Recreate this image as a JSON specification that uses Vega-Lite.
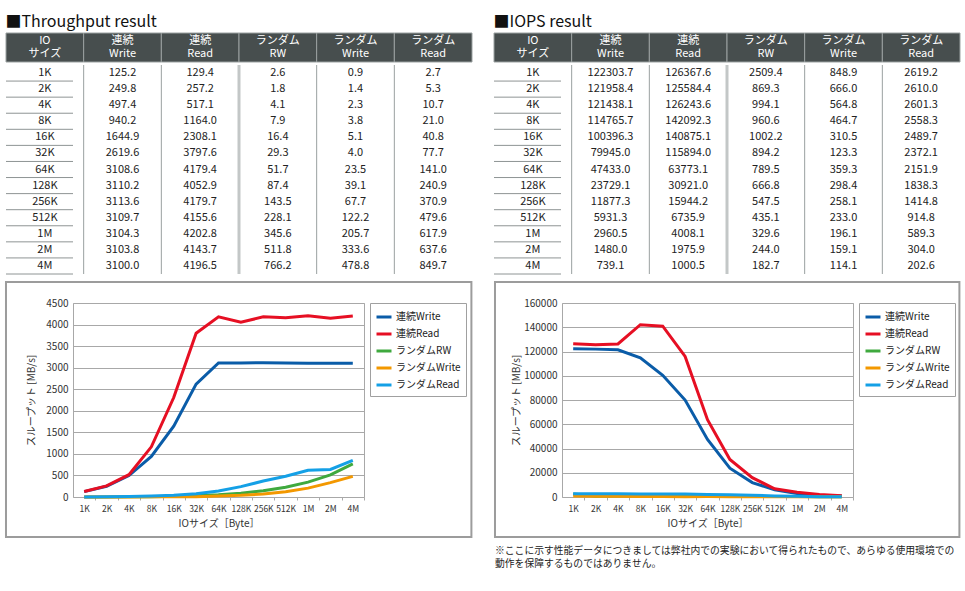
{
  "$schema": "https://vega.github.io/schema/vega-lite/v6.json",
  "padding": {"left": 4, "top": 13, "right": 0, "bottom": 0},
  "background": "white",
  "config": {
    "font": "Noto Sans CJK JP",
    "view": {"stroke": null},
    "title": {"font": "Noto Sans CJK JP"},
    "axis": {"labelFont": "Noto Sans CJK JP", "titleFont": "Noto Sans CJK JP"},
    "legend": {"labelFont": "Noto Sans CJK JP"},
    "text": {"font": "Noto Sans CJK JP"}
  },
  "datasets": {
    "cols": [
      {"col": "IO", "label": "IO\nサイズ"},
      {"col": "連続Write", "label": "連続\nWrite"},
      {"col": "連続Read", "label": "連続\nRead"},
      {"col": "ランダムRW", "label": "ランダム\nRW"},
      {"col": "ランダムWrite", "label": "ランダム\nWrite"},
      {"col": "ランダムRead", "label": "ランダム\nRead"}
    ],
    "tp": [
      {"size": "1K", "bytes": 1024, "連続Write": 125.2, "連続Read": 129.4, "ランダムRW": 2.6, "ランダムWrite": 0.9, "ランダムRead": 2.7},
      {"size": "2K", "bytes": 2048, "連続Write": 249.8, "連続Read": 257.2, "ランダムRW": 1.8, "ランダムWrite": 1.4, "ランダムRead": 5.3},
      {"size": "4K", "bytes": 4096, "連続Write": 497.4, "連続Read": 517.1, "ランダムRW": 4.1, "ランダムWrite": 2.3, "ランダムRead": 10.7},
      {"size": "8K", "bytes": 8192, "連続Write": 940.2, "連続Read": 1164.0, "ランダムRW": 7.9, "ランダムWrite": 3.8, "ランダムRead": 21.0},
      {"size": "16K", "bytes": 16384, "連続Write": 1644.9, "連続Read": 2308.1, "ランダムRW": 16.4, "ランダムWrite": 5.1, "ランダムRead": 40.8},
      {"size": "32K", "bytes": 32768, "連続Write": 2619.6, "連続Read": 3797.6, "ランダムRW": 29.3, "ランダムWrite": 4.0, "ランダムRead": 77.7},
      {"size": "64K", "bytes": 65536, "連続Write": 3108.6, "連続Read": 4179.4, "ランダムRW": 51.7, "ランダムWrite": 23.5, "ランダムRead": 141.0},
      {"size": "128K", "bytes": 131072, "連続Write": 3110.2, "連続Read": 4052.9, "ランダムRW": 87.4, "ランダムWrite": 39.1, "ランダムRead": 240.9},
      {"size": "256K", "bytes": 262144, "連続Write": 3113.6, "連続Read": 4179.7, "ランダムRW": 143.5, "ランダムWrite": 67.7, "ランダムRead": 370.9},
      {"size": "512K", "bytes": 524288, "連続Write": 3109.7, "連続Read": 4155.6, "ランダムRW": 228.1, "ランダムWrite": 122.2, "ランダムRead": 479.6},
      {"size": "1M", "bytes": 1048576, "連続Write": 3104.3, "連続Read": 4202.8, "ランダムRW": 345.6, "ランダムWrite": 205.7, "ランダムRead": 617.9},
      {"size": "2M", "bytes": 2097152, "連続Write": 3103.8, "連続Read": 4143.7, "ランダムRW": 511.8, "ランダムWrite": 333.6, "ランダムRead": 637.6},
      {"size": "4M", "bytes": 4194304, "連続Write": 3100.0, "連続Read": 4196.5, "ランダムRW": 766.2, "ランダムWrite": 478.8, "ランダムRead": 849.7}
    ],
    "iops": [
      {"size": "1K", "bytes": 1024, "連続Write": 122303.7, "連続Read": 126367.6, "ランダムRW": 2509.4, "ランダムWrite": 848.9, "ランダムRead": 2619.2},
      {"size": "2K", "bytes": 2048, "連続Write": 121958.4, "連続Read": 125584.4, "ランダムRW": 869.3, "ランダムWrite": 666.0, "ランダムRead": 2610.0},
      {"size": "4K", "bytes": 4096, "連続Write": 121438.1, "連続Read": 126243.6, "ランダムRW": 994.1, "ランダムWrite": 564.8, "ランダムRead": 2601.3},
      {"size": "8K", "bytes": 8192, "連続Write": 114765.7, "連続Read": 142092.3, "ランダムRW": 960.6, "ランダムWrite": 464.7, "ランダムRead": 2558.3},
      {"size": "16K", "bytes": 16384, "連続Write": 100396.3, "連続Read": 140875.1, "ランダムRW": 1002.2, "ランダムWrite": 310.5, "ランダムRead": 2489.7},
      {"size": "32K", "bytes": 32768, "連続Write": 79945.0, "連続Read": 115894.0, "ランダムRW": 894.2, "ランダムWrite": 123.3, "ランダムRead": 2372.1},
      {"size": "64K", "bytes": 65536, "連続Write": 47433.0, "連続Read": 63773.1, "ランダムRW": 789.5, "ランダムWrite": 359.3, "ランダムRead": 2151.9},
      {"size": "128K", "bytes": 131072, "連続Write": 23729.1, "連続Read": 30921.0, "ランダムRW": 666.8, "ランダムWrite": 298.4, "ランダムRead": 1838.3},
      {"size": "256K", "bytes": 262144, "連続Write": 11877.3, "連続Read": 15944.2, "ランダムRW": 547.5, "ランダムWrite": 258.1, "ランダムRead": 1414.8},
      {"size": "512K", "bytes": 524288, "連続Write": 5931.3, "連続Read": 6735.9, "ランダムRW": 435.1, "ランダムWrite": 233.0, "ランダムRead": 914.8},
      {"size": "1M", "bytes": 1048576, "連続Write": 2960.5, "連続Read": 4008.1, "ランダムRW": 329.6, "ランダムWrite": 196.1, "ランダムRead": 589.3},
      {"size": "2M", "bytes": 2097152, "連続Write": 1480.0, "連続Read": 1975.9, "ランダムRW": 244.0, "ランダムWrite": 159.1, "ランダムRead": 304.0},
      {"size": "4M", "bytes": 4194304, "連続Write": 739.1, "連続Read": 1000.5, "ランダムRW": 182.7, "ランダムWrite": 114.1, "ランダムRead": 202.6}
    ],
    "frame": [{}]
  },
  "spacing": 4,
  "vconcat": [
    {
      "spacing": 20,
      "hconcat": [
        {
          "title": {"text": "■Throughput result", "anchor": "start", "fontSize": 16, "fontWeight": "normal", "color": "#111", "offset": 3},
          "spacing": 0,
          "vconcat": [
            {
              "width": 399, "height": 29,
              "data": {"name": "cols"},
              "encoding": {"x": {"field": "col", "type": "nominal", "sort": null, "scale": {"domain": ["IO", "連続Write", "連続Read", "ランダムRW", "ランダムWrite", "ランダムRead"], "range": [-67, 399], "paddingInner": 0, "paddingOuter": 0}, "axis": null}},
              "layer": [
                {"mark": {"type": "rect", "fill": "#474e4e", "stroke": "#9ba1a1", "strokeWidth": 1}},
                {"mark": {"type": "text", "color": "white", "fontSize": 11, "lineBreak": "\n", "lineHeight": 13, "dy": -6.5}, "encoding": {"text": {"field": "label"}}}
              ]
            },
            {
              "width": 399, "height": 209,
              "data": {"name": "tp"},
              "layer": [
                {"mark": {"type": "rule", "color": "#8e9494", "strokeWidth": 1, "x": -67},
                 "encoding": {"y": {"field": "size", "type": "nominal", "sort": null, "bandPosition": 1, "scale": {"domain": ["1K","2K","4K","8K","16K","32K","64K","128K","256K","512K","1M","2M","4M"], "paddingInner": 0, "paddingOuter": 0}, "axis": null}}},
                {"data": {"name": "cols"}, "transform": [{"filter": "datum.col !== 'IO' && datum.col !== 'ランダムRW'"}],
                 "mark": {"type": "rule", "color": "#9aa0a0", "strokeWidth": 1},
                 "encoding": {"x": {"field": "col", "type": "nominal", "bandPosition": 0, "scale": {"domain": ["IO", "連続Write", "連続Read", "ランダムRW", "ランダムWrite", "ランダムRead"], "range": [-67, 399], "paddingInner": 0, "paddingOuter": 0}, "axis": null}}},
                {"data": {"name": "cols"}, "transform": [{"filter": "datum.col === 'ランダムRW'"}],
                 "mark": {"type": "rule", "color": "#c3c7c7", "strokeWidth": 3},
                 "encoding": {"x": {"field": "col", "type": "nominal", "bandPosition": 0, "scale": {"domain": ["IO", "連続Write", "連続Read", "ランダムRW", "ランダムWrite", "ランダムRead"], "range": [-67, 399], "paddingInner": 0, "paddingOuter": 0}, "axis": null}}},
                {"mark": {"type": "text", "fontSize": 11, "color": "#222"},
                 "encoding": {"x": {"datum": "IO", "type": "nominal", "scale": {"domain": ["IO", "連続Write", "連続Read", "ランダムRW", "ランダムWrite", "ランダムRead"], "range": [-67, 399], "paddingInner": 0, "paddingOuter": 0}, "axis": null},
                   "y": {"field": "size", "type": "nominal", "sort": null, "axis": null}, "text": {"field": "size"}}},
                {"transform": [{"fold": ["連続Write", "連続Read", "ランダムRW", "ランダムWrite", "ランダムRead"], "as": ["series", "val"]}],
                 "mark": {"type": "text", "fontSize": 11, "color": "#222"},
                 "encoding": {"x": {"field": "series", "type": "nominal", "axis": null},
                   "y": {"field": "size", "type": "nominal", "sort": null, "axis": null},
                   "text": {"field": "val", "type": "quantitative", "format": ".1f"}}}
              ]
            }
          ]
        },
        {
          "title": {"text": "■IOPS result", "anchor": "start", "fontSize": 16, "fontWeight": "normal", "color": "#111", "offset": 3},
          "spacing": 0,
          "vconcat": [
            {
              "width": 399, "height": 29,
              "data": {"name": "cols"},
              "encoding": {"x": {"field": "col", "type": "nominal", "sort": null, "scale": {"domain": ["IO", "連続Write", "連続Read", "ランダムRW", "ランダムWrite", "ランダムRead"], "range": [-67, 399], "paddingInner": 0, "paddingOuter": 0}, "axis": null}},
              "layer": [
                {"mark": {"type": "rect", "fill": "#474e4e", "stroke": "#9ba1a1", "strokeWidth": 1}},
                {"mark": {"type": "text", "color": "white", "fontSize": 11, "lineBreak": "\n", "lineHeight": 13, "dy": -6.5}, "encoding": {"text": {"field": "label"}}}
              ]
            },
            {
              "width": 399, "height": 209,
              "data": {"name": "iops"},
              "layer": [
                {"mark": {"type": "rule", "color": "#8e9494", "strokeWidth": 1, "x": -67},
                 "encoding": {"y": {"field": "size", "type": "nominal", "sort": null, "bandPosition": 1, "scale": {"domain": ["1K","2K","4K","8K","16K","32K","64K","128K","256K","512K","1M","2M","4M"], "paddingInner": 0, "paddingOuter": 0}, "axis": null}}},
                {"data": {"name": "cols"}, "transform": [{"filter": "datum.col !== 'IO' && datum.col !== 'ランダムRW'"}],
                 "mark": {"type": "rule", "color": "#9aa0a0", "strokeWidth": 1},
                 "encoding": {"x": {"field": "col", "type": "nominal", "bandPosition": 0, "scale": {"domain": ["IO", "連続Write", "連続Read", "ランダムRW", "ランダムWrite", "ランダムRead"], "range": [-67, 399], "paddingInner": 0, "paddingOuter": 0}, "axis": null}}},
                {"data": {"name": "cols"}, "transform": [{"filter": "datum.col === 'ランダムRW'"}],
                 "mark": {"type": "rule", "color": "#c3c7c7", "strokeWidth": 3},
                 "encoding": {"x": {"field": "col", "type": "nominal", "bandPosition": 0, "scale": {"domain": ["IO", "連続Write", "連続Read", "ランダムRW", "ランダムWrite", "ランダムRead"], "range": [-67, 399], "paddingInner": 0, "paddingOuter": 0}, "axis": null}}},
                {"mark": {"type": "text", "fontSize": 11, "color": "#222"},
                 "encoding": {"x": {"datum": "IO", "type": "nominal", "scale": {"domain": ["IO", "連続Write", "連続Read", "ランダムRW", "ランダムWrite", "ランダムRead"], "range": [-67, 399], "paddingInner": 0, "paddingOuter": 0}, "axis": null},
                   "y": {"field": "size", "type": "nominal", "sort": null, "axis": null}, "text": {"field": "size"}}},
                {"transform": [{"fold": ["連続Write", "連続Read", "ランダムRW", "ランダムWrite", "ランダムRead"], "as": ["series", "val"]}],
                 "mark": {"type": "text", "fontSize": 11, "color": "#222"},
                 "encoding": {"x": {"field": "series", "type": "nominal", "axis": null},
                   "y": {"field": "size", "type": "nominal", "sort": null, "axis": null},
                   "text": {"field": "val", "type": "quantitative", "format": ".1f"}}}
              ]
            }
          ]
        }
      ]
    },
    {
      "spacing": 20,
      "resolve": {"scale": {"color": "independent"}, "legend": {"color": "independent"}},
      "hconcat": [
        {
          "width": 291, "height": 194,
          "view": {"stroke": "#a8a8a8"},
          "layer": [
            {
              "data": {"name": "tp"},
              "transform": [{"fold": ["連続Write", "連続Read", "ランダムRW", "ランダムWrite", "ランダムRead"], "as": ["series", "val"]}],
              "mark": {"type": "line", "strokeWidth": 3},
              "encoding": {
                "x": {"field": "bytes", "type": "quantitative",
                  "scale": {"type": "log", "base": 2, "domain": [724.077, 5931641.6], "nice": false},
                  "axis": {"values": [1024, 2048, 4096, 8192, 16384, 32768, 65536, 131072, 262144, 524288, 1048576, 2097152, 4194304],
                    "labelExpr": "datum.value >= 1048576 ? (datum.value / 1048576) + 'M' : (datum.value / 1024) + 'K'",
                    "grid": false, "ticks": true, "tickOffset": 11.19, "labelOffset": -11.19, "tickSize": 3, "tickColor": "#aaaaaa",
                    "domain": false, "labelOverlap": false, "labelFlush": false,
                    "labelFontSize": 8.5, "labelColor": "#333", "labelPadding": 4,
                    "title": "IOサイズ［Byte］", "titleFontSize": 10, "titleFontWeight": "normal", "titleColor": "#333", "titlePadding": 6}},
                "y": {"field": "val", "type": "quantitative",
                  "scale": {"domain": [0, 4500], "nice": false},
                  "axis": {"values": [0, 500, 1000, 1500, 2000, 2500, 3000, 3500, 4000, 4500], "format": "d", "labelOverlap": false,
                    "grid": true, "gridColor": "#a8a8a8", "ticks": false, "domain": false,
                    "labelFontSize": 10, "labelColor": "#333", "labelPadding": 5,
                    "title": "スループット [MB/s]", "titleFontSize": 10, "titleFontWeight": "normal", "titleColor": "#333", "titlePadding": 9}},
                "color": {"field": "series", "type": "nominal",
                  "scale": {"domain": ["連続Write", "連続Read", "ランダムRW", "ランダムWrite", "ランダムRead"], "range": ["#0a5ca8", "#e60f23", "#3fa93e", "#f39800", "#14a0e6"]},
                  "legend": {"title": null, "orient": "right", "offset": 6, "strokeColor": "#a0a0a0", "padding": 5,
                    "symbolType": "stroke", "symbolStrokeWidth": 3, "symbolSize": 225, "labelFontSize": 10, "labelColor": "#222", "rowPadding": 2, "labelOffset": 3}}
              }
            },
            {
              "data": {"name": "frame"},
              "mark": {"type": "rect", "filled": false, "color": "#9c9c9c", "strokeWidth": 2},
              "encoding": {
                "x": {"datum": 90.9, "type": "quantitative"},
                "x2": {"datum": 165000000},
                "y": {"datum": -928, "type": "quantitative",
                  "axis": {"values": [0, 500, 1000, 1500, 2000, 2500, 3000, 3500, 4000, 4500], "format": "d", "labelOverlap": false,
                    "grid": true, "gridColor": "#a8a8a8", "ticks": false, "domain": false,
                    "labelFontSize": 10, "labelColor": "#333", "labelPadding": 5,
                    "title": "スループット [MB/s]", "titleFontSize": 10, "titleFontWeight": "normal", "titleColor": "#333", "titlePadding": 9}},
                "y2": {"datum": 4987}
              }
            }
          ]
        },
        {
          "width": 291, "height": 194,
          "view": {"stroke": "#a8a8a8"},
          "title": {"text": ["※ここに示す性能データにつきましては弊社内での実験において得られたもので、あらゆる使用環境での", "動作を保障するものではありません。"],
            "orient": "bottom", "anchor": "start", "frame": "group", "dx": -67, "offset": 8,
            "fontSize": 9.8, "fontWeight": "normal", "color": "#222", "lineHeight": 13},
          "layer": [
            {
              "data": {"name": "iops"},
              "transform": [{"fold": ["連続Write", "連続Read", "ランダムRW", "ランダムWrite", "ランダムRead"], "as": ["series", "val"]}],
              "mark": {"type": "line", "strokeWidth": 3},
              "encoding": {
                "x": {"field": "bytes", "type": "quantitative",
                  "scale": {"type": "log", "base": 2, "domain": [724.077, 5931641.6], "nice": false},
                  "axis": {"values": [1024, 2048, 4096, 8192, 16384, 32768, 65536, 131072, 262144, 524288, 1048576, 2097152, 4194304],
                    "labelExpr": "datum.value >= 1048576 ? (datum.value / 1048576) + 'M' : (datum.value / 1024) + 'K'",
                    "grid": false, "ticks": true, "tickOffset": 11.19, "labelOffset": -11.19, "tickSize": 3, "tickColor": "#aaaaaa",
                    "domain": false, "labelOverlap": false, "labelFlush": false,
                    "labelFontSize": 8.5, "labelColor": "#333", "labelPadding": 4,
                    "title": "IOサイズ［Byte］", "titleFontSize": 10, "titleFontWeight": "normal", "titleColor": "#333", "titlePadding": 6}},
                "y": {"field": "val", "type": "quantitative",
                  "scale": {"domain": [0, 160000], "nice": false},
                  "axis": {"values": [0, 20000, 40000, 60000, 80000, 100000, 120000, 140000, 160000], "format": "d", "labelOverlap": false,
                    "grid": true, "gridColor": "#a8a8a8", "ticks": false, "domain": false,
                    "labelFontSize": 10, "labelColor": "#333", "labelPadding": 5,
                    "title": "スループット [MB/s]", "titleFontSize": 10, "titleFontWeight": "normal", "titleColor": "#333", "titlePadding": 2}},
                "color": {"field": "series", "type": "nominal",
                  "scale": {"domain": ["連続Write", "連続Read", "ランダムRW", "ランダムWrite", "ランダムRead"], "range": ["#0a5ca8", "#e60f23", "#3fa93e", "#f39800", "#14a0e6"]},
                  "legend": {"title": null, "orient": "right", "offset": 6, "strokeColor": "#a0a0a0", "padding": 5,
                    "symbolType": "stroke", "symbolStrokeWidth": 3, "symbolSize": 225, "labelFontSize": 10, "labelColor": "#222", "rowPadding": 2, "labelOffset": 3}}
              }
            },
            {
              "data": {"name": "frame"},
              "mark": {"type": "rect", "filled": false, "color": "#9c9c9c", "strokeWidth": 2},
              "encoding": {
                "x": {"datum": 90.9, "type": "quantitative"},
                "x2": {"datum": 160000000},
                "y": {"datum": -32990, "type": "quantitative",
                  "axis": {"values": [0, 20000, 40000, 60000, 80000, 100000, 120000, 140000, 160000], "format": "d", "labelOverlap": false,
                    "grid": true, "gridColor": "#a8a8a8", "ticks": false, "domain": false,
                    "labelFontSize": 10, "labelColor": "#333", "labelPadding": 5,
                    "title": "スループット [MB/s]", "titleFontSize": 10, "titleFontWeight": "normal", "titleColor": "#333", "titlePadding": 2}},
                "y2": {"datum": 177320}
              }
            }
          ]
        }
      ]
    }
  ]
}
